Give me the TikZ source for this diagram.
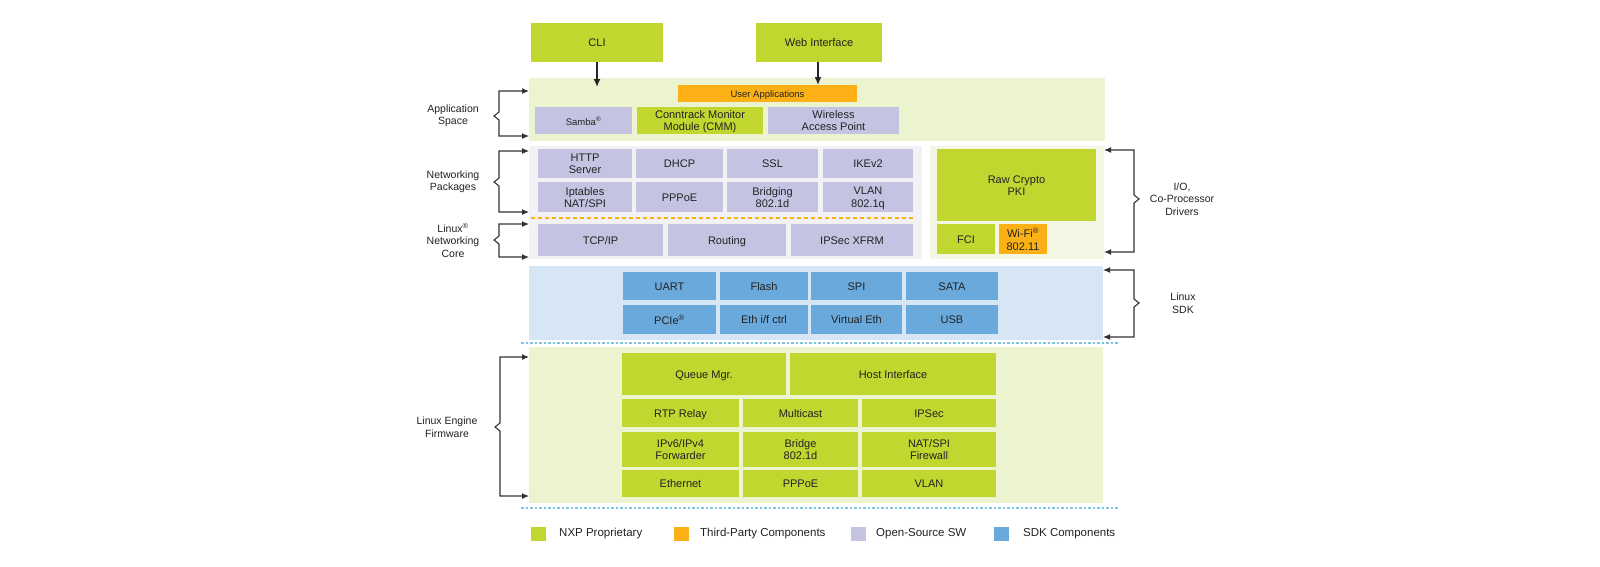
\documentclass[tikz,border=0pt]{standalone}
\usepackage{fontspec}
\setmainfont{Liberation Sans}
\usetikzlibrary{arrows.meta}
\definecolor{nxp}{HTML}{C1D62F}
\definecolor{third}{HTML}{FBB116}
\definecolor{oss}{HTML}{C4C4E2}
\definecolor{sdk}{HTML}{6AA9DC}
\definecolor{lgreen}{HTML}{EBF3CF}
\definecolor{lgreen2}{HTML}{F3F7E4}
\definecolor{lgray}{HTML}{F2F2F4}
\definecolor{lblue}{HTML}{D7E6F5}
\definecolor{dotc}{HTML}{7CC4E0}
\definecolor{txt}{HTML}{222222}
% box: name, x1, y1, x2, y2, style, text
\newcommand\bx[7]{%
  \node[#6, minimum width={#4-#2}, minimum height={#5-#3}] (#1) at ({(#2+#4)/2},{(#3+#5)/2}) {};
  \node[#6, fill=none, yshift=-1.4pt] (#1-t) at (#1.center) {\vphantom{Ag}#7\vphantom{Ag}};}
\newcommand\regsup{\textsuperscript{\textregistered}}
\tikzset{
  blk/.style={inner sep=0pt, outer sep=0pt, align=center, text=txt, font=\fontsize{11}{12.2}\selectfont},
  gbox/.style={blk, fill=nxp},
  obox/.style={blk, fill=third},
  pbox/.style={blk, fill=oss},
  bbox/.style={blk, fill=sdk},
  bggreen/.style={blk, fill=lgreen},
  bggreen2/.style={blk, fill=lgreen2},
  bggray/.style={blk, fill=lgray},
  bgblue/.style={blk, fill=lblue},
  small/.style={font=\fontsize{9.5}{10}\selectfont},
  lbl/.style={align=center, text=txt, font=\fontsize{10.5}{12.5}\selectfont, inner sep=0pt},
  conn/.style={line width=1.4pt, draw=black!85, -{Latex[length=8pt,width=7pt]}},
  bline/.style={line width=1.1pt, draw=black!80, {Latex[length=7pt,width=6pt]}-{Latex[length=7pt,width=6pt]}},
  dotsep/.style={line width=1.3pt, draw=dotc, dash pattern=on 2.5pt off 2pt},
  orsep/.style={line width=1.3pt, draw=third, dash pattern=on 4pt off 3pt},
  legsq/.style={inner sep=0pt, minimum width=15, minimum height=14},
  legtxt/.style={anchor=west, inner sep=0pt, text=txt, font=\fontsize{11.5}{12}\selectfont},
}
\begin{document}
\begin{tikzpicture}[x=1pt,y=-1pt]
\useasboundingbox (0,0) rectangle (1600,566);
\fill[white] (0,0) rectangle (1600,566);

% top interfaces
\bx{cli}{531}{23}{663}{62}{gbox}{CLI}
\bx{web}{756}{23}{882}{62}{gbox}{Web Interface}

% application space
\bx{appbg}{529}{78}{1105}{141}{bggreen}{}
\bx{userapp}{678}{85}{857}{102}{obox,small}{User Applications}
\bx{samba}{535}{107}{632}{134}{pbox,small}{Samba\regsup}
\bx{cmm}{637}{107}{763}{134}{gbox}{Conntrack Monitor\\Module (CMM)}
\bx{wap}{768}{107}{899}{134}{pbox}{Wireless\\Access Point}

\coordinate (cliend) at (597,87);
\draw[conn] (cli.south -| cliend) -- (cliend);
\draw[conn] (web.south -| 818,0) -- (userapp.north -| 818,0);

% networking
\bx{netbg}{529}{146}{922}{259}{bggray}{}
\bx{http}{538}{149}{632}{178}{pbox}{HTTP\\Server}
\bx{dhcp}{636}{149}{723}{178}{pbox}{DHCP}
\bx{ssl}{727}{149}{818}{178}{pbox}{SSL}
\bx{ike}{823}{149}{913}{178}{pbox}{IKEv2}
\bx{ipt}{538}{182}{632}{212}{pbox}{Iptables\\NAT/SPI}
\bx{pppoe}{636}{182}{723}{212}{pbox}{PPPoE}
\bx{bridging}{727}{182}{818}{212}{pbox}{Bridging\\802.1d}
\bx{vlan}{823}{182}{913}{212}{pbox}{VLAN\\802.1q}
\coordinate (ors1) at (531,218);
\coordinate (ors2) at (913,218);
\draw[orsep] (ors1) -- (ors2);
\bx{tcpip}{538}{224}{663}{256}{pbox}{TCP/IP}
\bx{routing}{668}{224}{786}{256}{pbox}{Routing}
\bx{xfrm}{791}{224}{913}{256}{pbox}{IPSec XFRM}

\bx{iobg}{930}{146}{1104}{259}{bggreen2}{}
\bx{raw}{937}{149}{1096}{221}{gbox}{Raw Crypto\\PKI}
\bx{fci}{937}{224}{995}{254}{gbox}{FCI}
\bx{wifi}{999}{224}{1047}{254}{obox}{Wi-Fi\regsup\\802.11}

% SDK
\bx{sdkbg}{529}{266}{1103}{340}{bgblue}{}
\bx{uart}{623}{272}{716}{300}{bbox}{UART}
\bx{flash}{720}{272}{808}{300}{bbox}{Flash}
\bx{spi}{811}{272}{902}{300}{bbox}{SPI}
\bx{sata}{906}{272}{998}{300}{bbox}{SATA}
\bx{pcie}{623}{305}{716}{334}{bbox}{PCIe\regsup}
\bx{ethif}{720}{305}{808}{334}{bbox}{Eth i/f ctrl}
\bx{veth}{811}{305}{902}{334}{bbox}{Virtual Eth}
\bx{usb}{906}{305}{998}{334}{bbox}{USB}
\coordinate (ds1) at (521,343);
\coordinate (ds2) at (1118,343);
\draw[dotsep] (ds1) -- (ds2);

% firmware
\bx{fwbg}{529}{347}{1103}{503}{bggreen}{}
\bx{queue}{622}{353}{786}{395}{gbox}{Queue Mgr.}
\bx{host}{790}{353}{996}{395}{gbox}{Host Interface}
\bx{rtp}{622}{399}{739}{427}{gbox}{RTP Relay}
\bx{mcast}{743}{399}{858}{427}{gbox}{Multicast}
\bx{ipsec}{862}{399}{996}{427}{gbox}{IPSec}
\bx{fwd}{622}{432}{739}{467}{gbox}{IPv6/IPv4\\Forwarder}
\bx{bridge}{743}{432}{858}{467}{gbox}{Bridge\\802.1d}
\bx{nat}{862}{432}{996}{467}{gbox}{NAT/SPI\\Firewall}
\bx{eth}{622}{470}{739}{497}{gbox}{Ethernet}
\bx{fpppoe}{743}{470}{858}{497}{gbox}{PPPoE}
\bx{fvlan}{862}{470}{996}{497}{gbox}{VLAN}
\coordinate (db1) at (521,508);
\coordinate (db2) at (1118,508);
\draw[dotsep] (db1) -- (db2);

% left braces
\draw[bline] (appbg.west |- 0,91) -- (499,91) -- (499,112) -- (494,116) -- (499,120) -- (499,136) -- (appbg.west |- 0,136);
\draw[bline] (netbg.west |- 0,151) -- (499,151) -- (499,178) -- (494,182) -- (499,186) -- (499,212) -- (netbg.west |- 0,212);
\draw[bline] (netbg.west |- 0,224) -- (499,224) -- (499,236) -- (494,240) -- (499,244) -- (499,257) -- (netbg.west |- 0,257);
\draw[bline] (fwbg.west |- 0,357) -- (500,357) -- (500,423) -- (495,427) -- (500,431) -- (500,496) -- (fwbg.west |- 0,496);
% right braces
\draw[bline] (iobg.east |- 0,150) -- (1134,150) -- (1134,195) -- (1139,199) -- (1134,203) -- (1134,252) -- (iobg.east |- 0,252);
\draw[bline] (sdkbg.east |- 0,270) -- (1134,270) -- (1134,299) -- (1139,303) -- (1134,307) -- (1134,337) -- (sdkbg.east |- 0,337);

% labels
\node[lbl] (lapp) at (453,116) {Application\\Space};
\node[lbl] (lnet) at (453,182) {Networking\\Packages};
\node[lbl] (lcore) at (453,240) {Linux\regsup\\Networking\\Core};
\node[lbl] (lfw) at (447,427) {Linux Engine\\Firmware};
\node[lbl] (lio) at (1182,199) {I/O,\\Co-Processor\\Drivers};
\node[lbl] (lsdk) at (1183,303) {Linux\\SDK};

% legend
\node[legsq, fill=nxp] (sq1) at (538.5,534) {};
\node[legtxt] (t1) at (559,534) {NXP Proprietary};
\node[legsq, fill=third] (sq2) at (681,534) {};
\node[legtxt] (t2) at (700,534) {Third-Party Components};
\node[legsq, fill=oss] (sq3) at (858.5,534) {};
\node[legtxt] (t3) at (876,534) {Open-Source SW};
\node[legsq, fill=sdk] (sq4) at (1001.5,534) {};
\node[legtxt] (t4) at (1023,534) {SDK Components};
\end{tikzpicture}
\end{document}
